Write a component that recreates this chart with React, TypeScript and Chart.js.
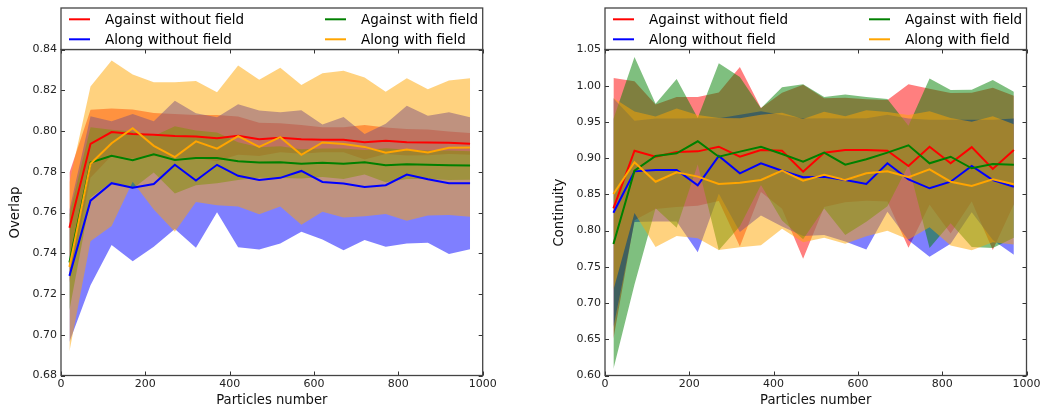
import React, { useEffect, useRef } from "react";
import { Chart, registerables } from "chart.js";

Chart.register(...registerables);

const FONT = "'DejaVu Sans', sans-serif";

// x values (particles number)
const particles = [20, 70, 120, 170, 220, 270, 320, 370, 420, 470, 520, 570, 620, 670, 720, 770, 820, 870, 920, 970];

const seriesLabels = ["Against without field", "Along without field", "Against with field", "Along with field"];
const seriesColors = ["#ff0000", "#0000ff", "#008000", "#ffa500"];
const fillColors = ["rgba(255,0,0,0.5)", "rgba(0,0,255,0.5)", "rgba(0,128,0,0.5)", "rgba(255,165,0,0.5)"];

// ---- Overlap (left) : means and standard deviations ----
const overlapAgainstNoField = [0.7525, 0.7937, 0.7995, 0.7985, 0.7982, 0.7976, 0.7973, 0.7965, 0.7977, 0.7959, 0.7967, 0.7959, 0.7957, 0.7957, 0.7945, 0.7952, 0.7945, 0.7944, 0.7942, 0.7937];
const overlapAgainstNoFieldStd = [0.027, 0.0167, 0.0116, 0.012, 0.0106, 0.0107, 0.0106, 0.0114, 0.0094, 0.0082, 0.0071, 0.0071, 0.0061, 0.0061, 0.0085, 0.0065, 0.0065, 0.0063, 0.0055, 0.0053];
const overlapAlongNoField = [0.7289, 0.7658, 0.7744, 0.7722, 0.774, 0.7834, 0.7757, 0.7834, 0.778, 0.776, 0.777, 0.7804, 0.775, 0.7742, 0.7725, 0.7734, 0.7786, 0.7763, 0.7744, 0.7744];
const overlapAlongNoFieldStd = [0.0325, 0.0415, 0.0304, 0.0361, 0.0308, 0.0315, 0.033, 0.0233, 0.0351, 0.0341, 0.0322, 0.0298, 0.0282, 0.0327, 0.026, 0.0302, 0.0338, 0.0312, 0.0348, 0.0324];
const overlapAgainstField = [0.7355, 0.7845, 0.7878, 0.7857, 0.7886, 0.7858, 0.7868, 0.7868, 0.7852, 0.7845, 0.7847, 0.7839, 0.7844, 0.7839, 0.7847, 0.7832, 0.7837, 0.7834, 0.7832, 0.7831];
const overlapAgainstFieldStd = [0.0235, 0.0173, 0.0128, 0.0141, 0.009, 0.0165, 0.0134, 0.0125, 0.0093, 0.0075, 0.0078, 0.0072, 0.007, 0.0075, 0.006, 0.0083, 0.0072, 0.007, 0.0072, 0.007];
const overlapAlongField = [0.7333, 0.7839, 0.794, 0.8014, 0.7927, 0.7872, 0.7949, 0.7913, 0.7975, 0.7922, 0.797, 0.7883, 0.7944, 0.7936, 0.7922, 0.7893, 0.7909, 0.7895, 0.7918, 0.7919];
const overlapAlongFieldStd = [0.0415, 0.038, 0.0406, 0.0263, 0.0312, 0.0367, 0.0297, 0.0277, 0.0346, 0.033, 0.034, 0.0343, 0.034, 0.036, 0.034, 0.03, 0.035, 0.031, 0.033, 0.034];

// ---- Continuity (right) : means and standard deviations ----
const contAgainstNoField = [0.8308, 0.9103, 0.902, 0.9085, 0.9094, 0.9158, 0.902, 0.9113, 0.9103, 0.8813, 0.9076, 0.9113, 0.9113, 0.9103, 0.8892, 0.9158, 0.8929, 0.9153, 0.8851, 0.9113];
const contAgainstNoFieldStd = [0.18, 0.096, 0.072, 0.076, 0.075, 0.075, 0.124, 0.058, 0.08, 0.12, 0.075, 0.072, 0.07, 0.07, 0.113, 0.08, 0.097, 0.075, 0.112, 0.075];
const contAlongNoField = [0.8247, 0.8818, 0.8837, 0.8837, 0.8625, 0.903, 0.8791, 0.8929, 0.8827, 0.8736, 0.8745, 0.8699, 0.8644, 0.8929, 0.8708, 0.8584, 0.8675, 0.8892, 0.8699, 0.8606];
const contAlongNoFieldStd = [0.158, 0.07, 0.071, 0.071, 0.0925, 0.052, 0.081, 0.072, 0.077, 0.081, 0.0805, 0.085, 0.0906, 0.067, 0.084, 0.0946, 0.0855, 0.064, 0.083, 0.094];
const contAgainstField = [0.7815, 0.8827, 0.903, 0.9067, 0.9233, 0.902, 0.909, 0.9158, 0.9058, 0.8951, 0.9076, 0.891, 0.8984, 0.9076, 0.9177, 0.8929, 0.902, 0.886, 0.8919, 0.891];
const contAgainstFieldStd = [0.1725, 0.157, 0.072, 0.1026, 0.032, 0.129, 0.103, 0.053, 0.092, 0.107, 0.077, 0.097, 0.086, 0.074, 0.027, 0.117, 0.092, 0.1085, 0.116, 0.1007];
const contAlongField = [0.8505, 0.8943, 0.8675, 0.8805, 0.8745, 0.8644, 0.8662, 0.8699, 0.8827, 0.869, 0.8772, 0.8699, 0.8791, 0.8818, 0.8736, 0.8846, 0.8675, 0.8616, 0.8708, 0.8639];
const contAlongFieldStd = [0.1325, 0.07, 0.09, 0.088, 0.085, 0.091, 0.089, 0.09, 0.08, 0.085, 0.087, 0.088, 0.087, 0.082, 0.086, 0.08, 0.088, 0.0887, 0.087, 0.083];

// axis ticks
const xTicks = [0, 200, 400, 600, 800, 1000];
const overlapTicks = [0.68, 0.7, 0.72, 0.74, 0.76, 0.78, 0.8, 0.82, 0.84];
const continuityTicks = [0.6, 0.65, 0.7, 0.75, 0.8, 0.85, 0.9, 0.95, 1.0, 1.05];

type PanelSpec = {
  means: number[][];
  stds: number[][];
  yTicks: number[];
  yTitle: string;
  yAxisWidth: number;
  rightPad: number;
  yTitlePad: number;
  canvasWidth: number;
};

function buildDatasets(means: number[][], stds: number[][]) {
  const ds: any[] = [];
  means.forEach((m, s) => {
    const sd = stds[s];
    const order = 3 - s;
    ds.push({
      label: seriesLabels[s] + " upper",
      data: particles.map((x, i) => ({ x, y: m[i] + sd[i] })),
      borderWidth: 0,
      borderColor: "transparent",
      pointRadius: 0,
      fill: false,
      order,
    });
    ds.push({
      label: seriesLabels[s] + " lower",
      data: particles.map((x, i) => ({ x, y: m[i] - sd[i] })),
      borderWidth: 0,
      borderColor: "transparent",
      backgroundColor: fillColors[s],
      pointRadius: 0,
      fill: "-1",
      order,
    });
    ds.push({
      label: seriesLabels[s],
      data: particles.map((x, i) => ({ x, y: m[i] })),
      borderColor: seriesColors[s],
      borderWidth: 2,
      pointRadius: 0,
      fill: false,
      order,
    });
  });
  return ds;
}

const frameTicksPlugin = {
  id: "frameTicks",
  afterDatasetsDraw(chart: any) {
    const { ctx, chartArea: a, scales } = chart;
    const xs = scales.x;
    const ys = scales.y;
    ctx.save();
    ctx.strokeStyle = "#333";
    ctx.lineWidth = 1;
    ctx.beginPath();
    xs.ticks.forEach((t: any) => {
      const px = Math.round(xs.getPixelForValue(t.value)) + 0.5;
      ctx.moveTo(px, a.bottom);
      ctx.lineTo(px, a.bottom - 4);
      ctx.moveTo(px, a.top);
      ctx.lineTo(px, a.top + 4);
    });
    ys.ticks.forEach((t: any) => {
      const py = Math.round(ys.getPixelForValue(t.value)) + 0.5;
      ctx.moveTo(a.left, py);
      ctx.lineTo(a.left + 4, py);
      ctx.moveTo(a.right, py);
      ctx.lineTo(a.right - 4, py);
    });
    ctx.stroke();
    ctx.strokeStyle = "#444";
    ctx.lineWidth = 1.3;
    ctx.strokeRect(a.left, a.top, a.right - a.left, a.bottom - a.top);
    ctx.restore();
  },
};

const boxLegendPlugin = {
  id: "boxLegend",
  afterDraw(chart: any) {
    const { ctx, chartArea: a } = chart;
    const top = 8;
    ctx.save();
    ctx.fillStyle = "#fff";
    ctx.fillRect(a.left, top, a.right - a.left, a.top - top);
    ctx.strokeStyle = "#444";
    ctx.lineWidth = 1.3;
    ctx.strokeRect(a.left, top, a.right - a.left, a.top - top);
    const colX = [8, 264];
    const rowY = [19.3, 39.3];
    ctx.font = "13.5px " + FONT;
    ctx.textBaseline = "alphabetic";
    ctx.textAlign = "left";
    seriesLabels.forEach((lab, i) => {
      const col = Math.floor(i / 2);
      const row = i % 2;
      const x0 = a.left + colX[col];
      const y0 = rowY[row];
      ctx.strokeStyle = seriesColors[i];
      ctx.lineWidth = 2;
      ctx.beginPath();
      ctx.moveTo(x0, y0);
      ctx.lineTo(x0 + 21, y0);
      ctx.stroke();
      ctx.fillStyle = "#000";
      ctx.fillText(lab, x0 + 36, y0 + 5);
    });
    ctx.restore();
  },
};

function Panel({ spec }: { spec: PanelSpec }) {
  const ref = useRef<HTMLCanvasElement | null>(null);
  useEffect(() => {
    if (!ref.current) return;
    const yMin = spec.yTicks[0];
    const yMax = spec.yTicks[spec.yTicks.length - 1];
    const chart = new Chart(ref.current, {
      type: "line",
      data: { datasets: buildDatasets(spec.means, spec.stds) },
      options: {
        responsive: false,
        animation: false,
        events: [],
        layout: { padding: { top: 49.5, right: spec.rightPad, left: 0, bottom: 0 } },
        plugins: {
          legend: { display: false },
          tooltip: { enabled: false },
          filler: { drawTime: "beforeDatasetsDraw" },
        },
        scales: {
          x: {
            type: "linear",
            min: xTicks[0],
            max: xTicks[xTicks.length - 1],
            afterBuildTicks: (s: any) => {
              s.ticks = xTicks.map((v) => ({ value: v }));
            },
            grid: { display: false, drawTicks: false },
            border: { display: false },
            ticks: {
              padding: 2.5,
              color: "#222",
              font: { family: FONT, size: 11 },
              maxRotation: 0,
              callback: (v: any) => String(v),
            },
            title: {
              display: true,
              text: "Particles number",
              color: "#111",
              font: { family: FONT, size: 13.2 },
              padding: { top: 0, bottom: 2 },
            },
            afterFit: (s: any) => {
              s.height = 34.5;
            },
          },
          y: {
            type: "linear",
            min: yMin,
            max: yMax,
            afterBuildTicks: (s: any) => {
              s.ticks = spec.yTicks.map((v) => ({ value: v }));
            },
            grid: { display: false, drawTicks: false },
            border: { display: false },
            ticks: {
              padding: 4,
              color: "#222",
              font: { family: FONT, size: 11 },
              callback: (v: any) => Number(v).toFixed(2),
            },
            title: {
              display: true,
              text: spec.yTitle,
              color: "#111",
              font: { family: FONT, size: 13.2 },
              padding: { top: spec.yTitlePad, bottom: 0 },
            },
            afterFit: (s: any) => {
              s.width = spec.yAxisWidth;
            },
          },
        },
      } as any,
      plugins: [frameTicksPlugin, boxLegendPlugin],
    });
    return () => chart.destroy();
  }, [spec]);
  return <canvas ref={ref} width={spec.canvasWidth} height={410} style={{ display: "block" }} />;
}

const leftSpec: PanelSpec = {
  means: [overlapAgainstNoField, overlapAlongNoField, overlapAgainstField, overlapAlongField],
  stds: [overlapAgainstNoFieldStd, overlapAlongNoFieldStd, overlapAgainstFieldStd, overlapAlongFieldStd],
  yTicks: overlapTicks,
  yTitle: "Overlap",
  yAxisWidth: 61,
  rightPad: 38.3,
  yTitlePad: 8,
  canvasWidth: 521,
};

const rightSpec: PanelSpec = {
  means: [contAgainstNoField, contAlongNoField, contAgainstField, contAlongField],
  stds: [contAgainstNoFieldStd, contAlongNoFieldStd, contAgainstFieldStd, contAlongFieldStd],
  yTicks: continuityTicks,
  yTitle: "Continuity",
  yAxisWidth: 84,
  rightPad: 15.7,
  yTitlePad: 31,
  canvasWidth: 522,
};

export default function App() {
  return (
    <div style={{ position: "absolute", left: 0, top: 0, width: 1043, height: 410, background: "#fff" }}>
      <div style={{ position: "absolute", left: 0, top: 0 }}>
        <Panel spec={leftSpec} />
      </div>
      <div style={{ position: "absolute", left: 521, top: 0 }}>
        <Panel spec={rightSpec} />
      </div>
    </div>
  );
}
